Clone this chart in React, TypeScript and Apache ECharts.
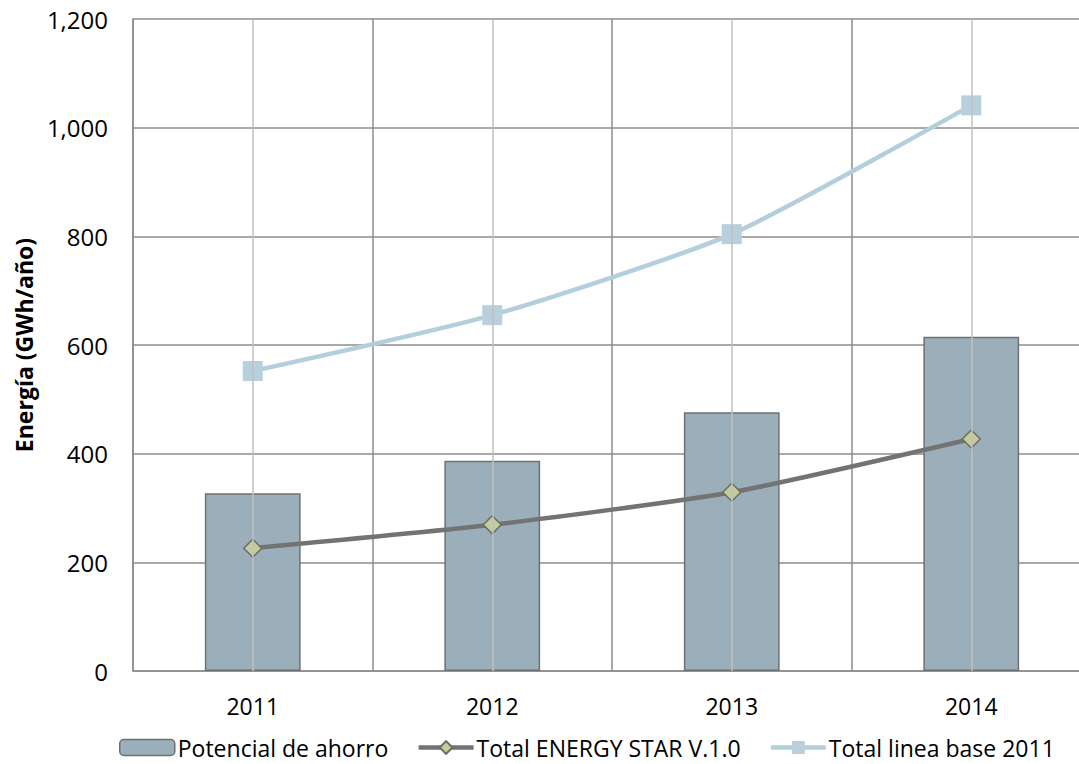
import React, { useEffect, useRef } from "react";
import * as echarts from "echarts";

const categories = ["2011", "2012", "2013", "2014"];
const potencialAhorro = [327, 387, 476, 615];
const energyStar = [226, 269, 329, 427];
const lineaBase = [552, 655, 804, 1041];

const FONT = "'Open Sans', 'Noto Sans', sans-serif";

export default function App() {
  const ref = useRef<HTMLDivElement>(null);
  useEffect(() => {
    if (!ref.current) return;
    const chart = echarts.init(ref.current, undefined, { renderer: "svg" });
    chart.setOption({
      animation: false,
      backgroundColor: "#ffffff",
      grid: { left: 133, right: 9, top: 19, bottom: 93, containLabel: false },
      legend: {
        bottom: 0,
        left: 114,
        itemWidth: 55,
        itemHeight: 16,
        itemGap: 28,
        textStyle: { fontFamily: FONT, fontSize: 23, color: "#000", padding: [0, 0, 0, -2] },
        data: [
          { name: "Potencial de ahorro", itemStyle: { borderWidth: 1.5 } },
          { name: "Total ENERGY STAR V.1.0", lineStyle: { width: 4.5 } },
          { name: "Total linea base 2011", lineStyle: { width: 4.5 } },
        ],
      },
      xAxis: {
        type: "category",
        data: categories,
        boundaryGap: true,
        axisLine: { lineStyle: { color: "#8c8c8c", width: 1.5 } },
        axisTick: { show: false },
        axisLabel: { fontFamily: FONT, fontSize: 23, color: "#000", margin: 23 },
        splitLine: { show: true, lineStyle: { color: "#8c8c8c", width: 1.5 } },
      },
      yAxis: {
        type: "value",
        min: 0,
        max: 1200,
        interval: 200,
        name: "Energía (GWh/año)",
        nameLocation: "middle",
        nameGap: 98,
        nameTextStyle: { fontFamily: FONT, fontSize: 23, fontWeight: "bold", color: "#000" },
        axisLine: { show: true, lineStyle: { color: "#8c8c8c", width: 1.5 } },
        axisTick: { show: false },
        axisLabel: {
          fontFamily: FONT,
          fontSize: 24,
          color: "#000",
          margin: 25,
          formatter: (v: number) => v.toLocaleString("en-US"),
        },
        splitLine: { lineStyle: { color: "#8c8c8c", width: 1.5 } },
      },
      series: [
        {
          name: "centerlines",
          type: "line",
          data: [],
          z: 1,
          silent: true,
          markLine: {
            silent: true,
            symbol: "none",
            label: { show: false },
            lineStyle: { color: "#c0c0c0", width: 1.5, type: "solid" },
            data: categories.map((c) => ({ xAxis: c })),
          },
        },
        {
          name: "Potencial de ahorro",
          type: "bar",
          data: potencialAhorro,
          barWidth: "40%",
          z: 2,
          itemStyle: { color: "#9aafba", borderColor: "#707070", borderWidth: 1.5 },
        },
        {
          name: "Total ENERGY STAR V.1.0",
          type: "line",
          data: energyStar,
          smooth: 0.2,
          z: 3,
          symbol: "diamond",
          symbolSize: 18,
          lineStyle: { color: "#737373", width: 4.5 },
          itemStyle: { color: "#c4cc98", borderColor: "#6b6b6b", borderWidth: 1.5 },
        },
        {
          name: "Total linea base 2011",
          type: "line",
          data: lineaBase,
          smooth: 0.2,
          z: 3,
          symbol: "rect",
          symbolSize: 20,
          lineStyle: { color: "#b4cfdc", width: 4.5 },
          itemStyle: { color: "#b7d0dc", borderColor: "#b7d0dc", borderWidth: 0 },
        },
      ],
    });
    return () => chart.dispose();
  }, []);
  return (
    <div style={{ width: 1079, height: 764, position: "absolute", left: 0, top: 0, overflow: "hidden" }}>
      <div ref={ref} style={{ width: 1100, height: 764 }} />
    </div>
  );
}
